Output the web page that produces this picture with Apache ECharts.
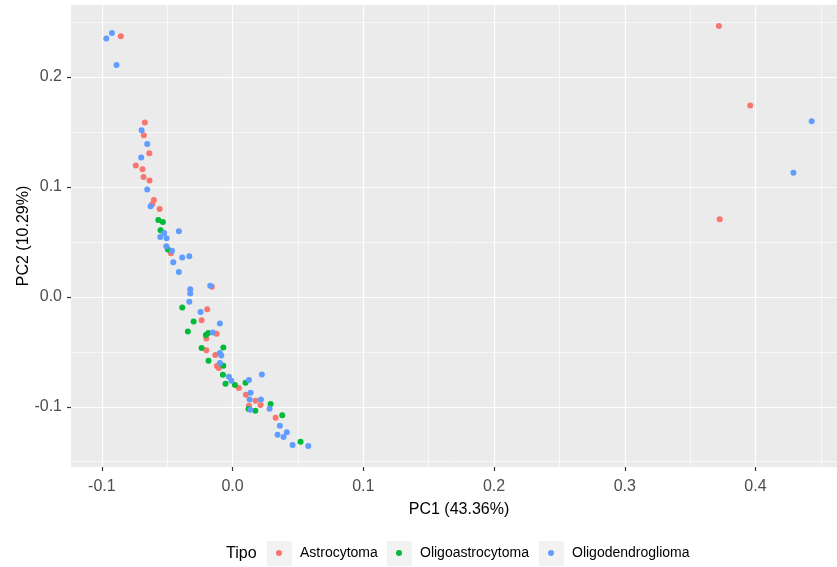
<!DOCTYPE html>
<html>
<head>
<meta charset="utf-8">
<script src="https://cdn.jsdelivr.net/npm/echarts@6/dist/echarts.min.js"></script>
<style>html,body{margin:0;padding:0;background:#fff;}#c{width:837px;height:567px;}</style>
</head>
<body>
<div id="c"></div>
<script>
// ---- data (PC1, PC2) per group ----
const astroPC1 = [-0.0855,-0.0671,-0.0679,-0.0637,-0.074,-0.0689,-0.0681,-0.0635,-0.0602,-0.0614,-0.0558,-0.0472,-0.0158,-0.0194,-0.0237,-0.0122,-0.0201,-0.0201,-0.0132,-0.012,-0.0105,0.0048,0.0102,0.0176,0.0214,0.0125,0.0329,0.372,0.396,0.3726];
const astroPC2 = [0.237,0.1585,0.147,0.1306,0.1195,0.116,0.109,0.1058,0.0882,0.0843,0.080,0.0397,0.0091,-0.0112,-0.0212,-0.0336,-0.0378,-0.0487,-0.053,-0.063,-0.0648,-0.083,-0.0891,-0.0945,-0.0985,-0.099,-0.110,0.2464,0.174,0.0706];

const oligoastroPC1 = [-0.0568,-0.0533,-0.0551,-0.0495,-0.0385,-0.0298,-0.0342,-0.0186,-0.0204,-0.0237,-0.0071,-0.0184,-0.0071,-0.0074,-0.0054,0.0018,0.0099,0.0291,0.0122,0.0174,0.038,0.052];
const oligoastroPC2 = [0.070,0.068,0.0606,0.043,-0.0096,-0.0224,-0.0315,-0.033,-0.0348,-0.0466,-0.046,-0.0582,-0.0627,-0.0709,-0.0791,-0.0803,-0.0782,-0.0975,-0.1021,-0.1036,-0.1078,-0.1318];

const oligodendroPC1 = [-0.0923,-0.0966,-0.0888,-0.0696,-0.0653,-0.0699,-0.0653,-0.0627,-0.0523,-0.0553,-0.0505,-0.0411,-0.0507,-0.0464,-0.0385,-0.0331,-0.0454,-0.0411,-0.0171,-0.0324,-0.0324,-0.0331,-0.0245,-0.0097,-0.0151,-0.0097,-0.0086,-0.0097,-0.0028,-0.001,0.0125,0.0224,0.0138,0.013,0.0217,0.0135,0.0283,0.0362,0.0415,0.0344,0.039,0.0459,0.0579,0.443,0.429];
const oligodendroPC2 = [0.240,0.235,0.211,0.1515,0.139,0.1267,0.0976,0.0825,0.058,0.0545,0.0534,0.0597,0.046,0.042,0.0358,0.037,0.0315,0.0225,0.010,0.007,0.003,-0.0045,-0.0139,-0.0242,-0.0324,-0.0512,-0.0533,-0.0603,-0.0727,-0.0764,-0.0757,-0.0706,-0.0873,-0.0933,-0.0933,-0.1027,-0.1018,-0.1173,-0.1233,-0.1255,-0.1275,-0.1348,-0.1357,0.1597,0.113];

const groupNames = ['Astrocytoma','Oligoastrocytoma','Oligodendroglioma'];
const groupColors = ['#F8766D','#00BA38','#619CFF'];

// ---- tick values ----
const xMajor = [-0.1,0,0.1,0.2,0.3,0.4];
const xMinor = [-0.05,0.05,0.15,0.25,0.35,0.45];
const yMajor = [-0.1,0,0.1,0.2];
const yMinor = [-0.15,-0.05,0.05,0.15,0.25];

const FONT = "'Liberation Sans', Arial, sans-serif";
const zip = (a,b) => a.map((v,i) => [v,b[i]]);
const groupData = [zip(astroPC1,astroPC2), zip(oligoastroPC1,oligoastroPC2), zip(oligodendroPC1,oligodendroPC2)];

const gridLines = [].concat(
  xMajor.map(v => ({xAxis:v, lineStyle:{width:1.2}})),
  xMinor.map(v => ({xAxis:v, lineStyle:{width:0.6}})),
  yMajor.map(v => ({yAxis:v, lineStyle:{width:1.2}})),
  yMinor.map(v => ({yAxis:v, lineStyle:{width:0.6}}))
);

// legend key layout (key box left edges)
const keyLeft = [267, 387, 539];
const legends = groupNames.map((n,i) => ({
  left: keyLeft[i] + 9, top: 545, orient:'horizontal', padding:0,
  itemWidth:6, itemHeight:6, icon:'circle', z:10, selectedMode:false,
  textStyle:{fontSize:14, color:'#000', fontFamily:FONT, lineHeight:16, padding:[0,0,0,13]},
  data:[n]
}));

const chart = echarts.init(document.getElementById('c'), null, {renderer:'canvas'});
chart.setOption({
  animation:false,
  backgroundColor:'#ffffff',
  textStyle:{fontFamily:FONT},
  grid:{left:71, top:5, right:-10, bottom:100, outerBoundsMode:'none', containLabel:false,
        show:true, backgroundColor:'#EBEBEB', borderWidth:0},
  xAxis:{
    type:'value', min:-0.1236, max:0.470, position:'bottom',
    name:'PC1 (43.36%)', nameLocation:'middle', nameGap:35, nameMoveOverlap:false,
    nameTextStyle:{fontSize:16, color:'#000', fontFamily:FONT, verticalAlign:'top'},
    axisLine:{show:false, onZero:false},
    axisTick:{show:true, inside:false, length:4, customValues:xMajor, lineStyle:{color:'#333333', width:1.2}},
    axisLabel:{customValues:xMajor, fontSize:16, color:'#4D4D4D', margin:12, fontFamily:FONT, formatter:v => v.toFixed(1)},
    splitLine:{show:false}
  },
  yAxis:{
    type:'value', min:-0.1548, max:0.2655, position:'left',
    name:'PC2 (10.29%)', nameLocation:'middle', nameGap:39, nameRotate:90, nameMoveOverlap:false,
    nameTextStyle:{fontSize:16, color:'#000', fontFamily:FONT},
    axisLine:{show:false, onZero:false},
    axisTick:{show:true, inside:false, length:4, customValues:yMajor, lineStyle:{color:'#333333', width:1.2}},
    axisLabel:{customValues:yMajor, fontSize:16, color:'#4D4D4D', margin:9, fontFamily:FONT, formatter:v => v.toFixed(1)},
    splitLine:{show:false}
  },
  legend:legends,
  graphic:[
    {type:'text', left:226, top:546, z:10, style:{text:'Tipo', font:"16px 'Liberation Sans', Arial, sans-serif", fill:'#000'}},
    {type:'rect', shape:{x:keyLeft[0], y:541, width:25, height:25}, style:{fill:'#F2F2F2'}, z:0},
    {type:'rect', shape:{x:keyLeft[1], y:541, width:25, height:25}, style:{fill:'#F2F2F2'}, z:0},
    {type:'rect', shape:{x:keyLeft[2], y:541, width:25, height:25}, style:{fill:'#F2F2F2'}, z:0}
  ],
  series:[
    {
      type:'scatter', data:[], silent:true, z:1,
      markLine:{silent:true, z:1, symbol:['none','none'], label:{show:false}, animation:false,
        lineStyle:{color:'#FFFFFF', type:'solid'}, emphasis:{disabled:true}, data:gridLines}
    }
  ].concat(groupNames.map((n,i) => ({
    name:n, type:'scatter', z:10, data:groupData[i], symbolSize:6,
    itemStyle:{color:groupColors[i], opacity:1}
  })))
});
</script>
</body>
</html>
